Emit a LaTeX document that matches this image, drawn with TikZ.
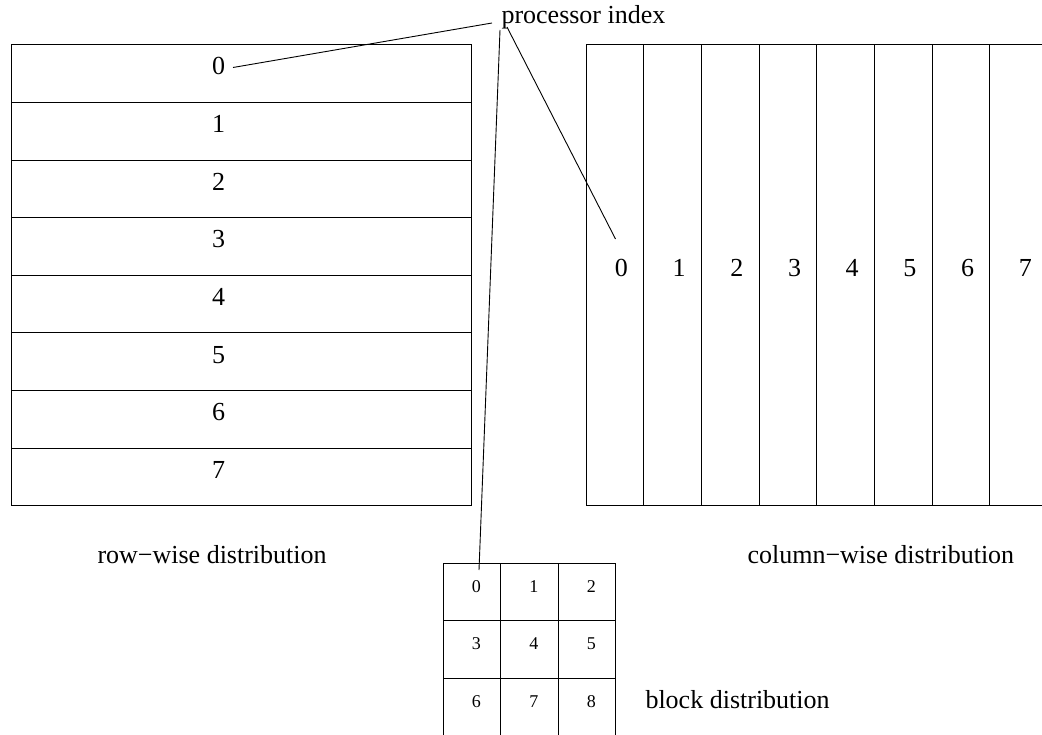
\documentclass[tikz,border=0pt]{standalone}
\usepackage{fontspec}
\setmainfont{Liberation Serif}
\begin{document}
\begin{tikzpicture}[x=1pt,y=-1pt,line width=1pt,
  big/.style={font=\fontsize{26}{30}\selectfont,inner sep=0pt},
  small/.style={font=\fontsize{18}{21}\selectfont,inner sep=0pt},
  cellbox/.style={draw,inner sep=0pt,outer sep=0pt,anchor=north west},
  leader/.style={line width=0.9pt}]
\useasboundingbox (0,0) rectangle (1042,735);

% row-wise distribution: eight horizontal strips
\foreach \i in {0,...,7} {
  \node[cellbox,minimum width=460pt,minimum height=57.6pt] (r\i) at (11,{45+57.6*\i}) {};
  \node[big,anchor=base] (rl\i) at (218.5,{75+57.6*\i}) {\i};
}

% column-wise distribution: eight vertical strips
\foreach \j in {0,...,7} {
  \node[cellbox,minimum width=57.7pt,minimum height=460.7pt] (c\j) at ({586+57.7*\j},45) {};
  \node[big,anchor=base] (cl\j) at ({621.4+57.7*\j},277) {\j};
}

% block distribution: 3x3 grid
\foreach \r in {0,1,2} {
  \foreach \c in {0,1,2} {
    \pgfmathtruncatemacro{\k}{3*\r+\c}
    \node[cellbox,minimum width=57.5pt,minimum height=57.5pt] (b\k) at ({443+57.5*\c},{563+57.5*\r}) {};
    \node[small,anchor=base] (bl\k) at ({476.3+57.5*\c},{592.3+57.5*\r}) {\k};
  }
}

% captions
\node[big,anchor=base west] (pi) at (501,24) {processor index};
\node[big,anchor=base west] (rw) at (97,563) {row−wise distribution};
\node[big,anchor=base west] (cw) at (747,563) {column−wise distribution};
\node[big,anchor=base west] (bd) at (645,708) {block distribution};

% leader lines from the caption to the first index of each layout
\coordinate (piA) at (492,23);
\coordinate (piB) at (500,30);
\coordinate (piC) at (507,27);
\coordinate (rowtip) at (233,67.5);
\coordinate (coltip) at (615.5,239);
\coordinate (blocktip) at (479,570);
\draw[leader] (piA) -- (rowtip);
\draw[leader] (piB) -- (blocktip);
\draw[leader] (piC) -- (coltip);
\end{tikzpicture}
\end{document}
